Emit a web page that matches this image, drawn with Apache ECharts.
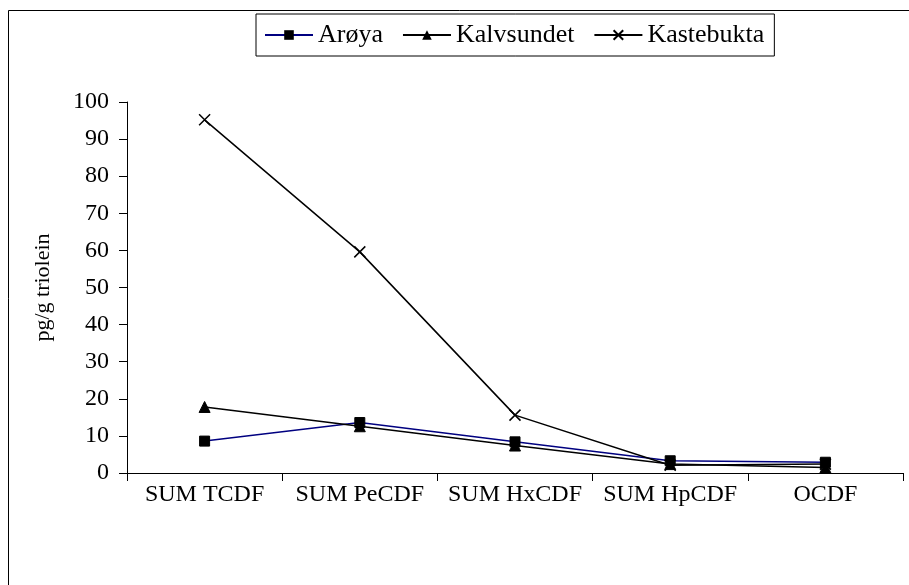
<!DOCTYPE html>
<html><head><meta charset="utf-8">
<script src="https://cdn.jsdelivr.net/npm/echarts@6/dist/echarts.min.js"></script>
<style>html,body{margin:0;padding:0;background:#fff}#c{width:909px;height:585px}</style>
</head><body><div id="c"></div>
<script>
const categories = ['SUM TCDF', 'SUM PeCDF', 'SUM HxCDF', 'SUM HpCDF', 'OCDF'];
const aroya = [8.6, 13.6, 8.4, 3.3, 2.9];
const kalvsundet = [17.8, 12.6, 7.4, 2.4, 1.5];
const kastebukta = [95.2, 59.6, 15.6, 2.1, 2.4];
const yTicks = [0, 10, 20, 30, 40, 50, 60, 70, 80, 90, 100];

const font = 'Liberation Serif, Times New Roman, serif';
const crossPath = 'path://M0,0 L10,10 M10,0 L0,10';
const chart = echarts.init(document.getElementById('c'));
chart.setOption({
  animation: false,
  backgroundColor: '#fff',
  graphic: [{
    type: 'rect', left: 6, top: 8,
    shape: { width: 920, height: 600 },
    style: { fill: 'none', stroke: '#000', lineWidth: 1 }, silent: true, z: -1
  }],
  grid: { left: 127, right: 6, top: 102, bottom: 112 },
  legend: {
    top: 14, left: 256,
    padding: [8, 10, 8, 8],
    borderColor: '#000', borderWidth: 1,
    itemWidth: 48, itemHeight: 12, itemGap: 19,
    textStyle: { fontFamily: font, fontSize: 26, color: '#000' },
    data: ['Arøya', 'Kalvsundet', 'Kastebukta']
  },
  xAxis: {
    type: 'category', data: categories, boundaryGap: true,
    axisLine: { lineStyle: { color: '#000', width: 1 } },
    axisTick: { show: true, interval: 0, length: 8, lineStyle: { color: '#000' } },
    axisLabel: { interval: 0, hideOverlap: false, color: '#000', fontFamily: font, fontSize: 24, margin: 10 },
    splitLine: { show: false }
  },
  yAxis: {
    type: 'value', min: yTicks[0], max: yTicks[yTicks.length - 1], interval: 10,
    name: 'pg/g triolein', nameLocation: 'middle', nameGap: 73, nameRotate: 90,
    nameTextStyle: { color: '#000', fontFamily: font, fontSize: 22 },
    axisLine: { show: true, lineStyle: { color: '#000', width: 1 } },
    axisTick: { show: true, length: 8, lineStyle: { color: '#000' } },
    axisLabel: { color: '#000', fontFamily: font, fontSize: 24, margin: 18 },
    splitLine: { show: false }
  },
  series: [
    {
      name: 'Arøya', type: 'line', data: aroya,
      symbol: 'rect', symbolSize: 10,
      lineStyle: { color: '#000080', width: 1.5 },
      itemStyle: { color: '#000', borderColor: '#000' }
    },
    {
      name: 'Kalvsundet', type: 'line', data: kalvsundet,
      symbol: 'triangle', symbolSize: 11,
      lineStyle: { color: '#000', width: 1.5 },
      itemStyle: { color: '#000', borderColor: '#000' }
    },
    {
      name: 'Kastebukta', type: 'line', data: kastebukta,
      symbol: crossPath, symbolSize: 11,
      lineStyle: { color: '#000', width: 1.5 },
      itemStyle: { color: 'transparent', borderColor: '#000', borderWidth: 1.5 }
    }
  ]
});
</script></body></html>
